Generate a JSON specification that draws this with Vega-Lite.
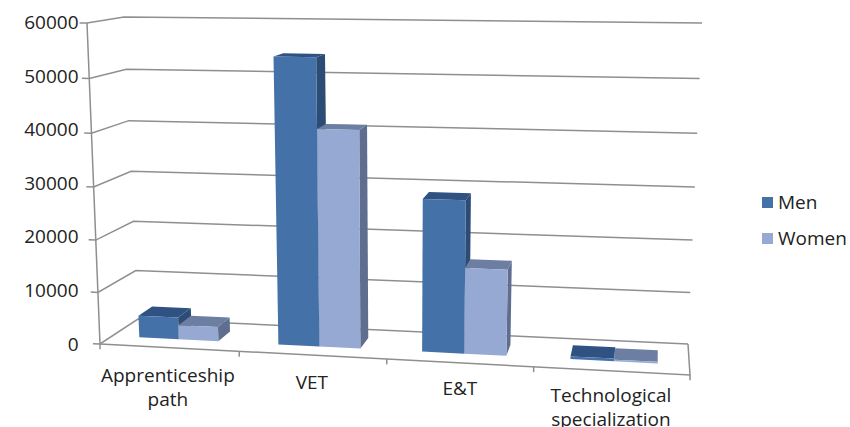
{
  "$schema": "https://vega.github.io/schema/vega-lite/v6.json",
  "width": 850,
  "height": 427,
  "padding": 0,
  "autosize": {"type": "none"},
  "background": "white",
  "view": {"stroke": null},
  "config": {"font": "Open Sans"},
  "data": {"values": [
    {"category": "Apprenticeship path", "series": "Men", "value": 4300},
    {"category": "Apprenticeship path", "series": "Women", "value": 2800},
    {"category": "VET", "series": "Men", "value": 54000},
    {"category": "VET", "series": "Women", "value": 41000},
    {"category": "E&T", "series": "Men", "value": 28700},
    {"category": "E&T", "series": "Women", "value": 16200},
    {"category": "Technological specialization", "series": "Men", "value": 500},
    {"category": "Technological specialization", "series": "Women", "value": 300}
  ]},
  "transform": [
    {"calculate": "indexof(['Apprenticeship path','VET','E&T','Technological specialization'], datum.category)", "as": "slot"},
    {"calculate": "[0.0685,0.071,0.073,0.0755][datum.slot]", "as": "w"},
    {"calculate": "[0.047,0.288,0.537,0.794][datum.slot] + (datum.series === 'Women' ? datum.w : 0)", "as": "u0"},
    {"calculate": "datum.category + '/' + datum.series", "as": "bar"},
    {"calculate": "[{f:'front',i:0,a:0,b:0,t:0},{f:'front',i:1,a:1,b:0,t:0},{f:'front',i:2,a:1,b:0,t:1},{f:'front',i:3,a:0,b:0,t:1},{f:'top',i:0,a:0,b:0,t:1},{f:'top',i:1,a:1,b:0,t:1},{f:'top',i:2,a:1,b:1,t:1},{f:'top',i:3,a:0,b:1,t:1},{f:'side',i:0,a:1,b:0,t:0},{f:'side',i:1,a:1,b:1,t:0},{f:'side',i:2,a:1,b:1,t:1},{f:'side',i:3,a:1,b:0,t:1}]", "as": "c"},
    {"flatten": ["c"]},
    {"calculate": "datum.c.f", "as": "face"},
    {"calculate": "datum.c.i", "as": "seq"},
    {"calculate": "datum.u0 + datum.c.a * datum.w", "as": "u"},
    {"calculate": "0.32 + 0.38 * datum.c.b", "as": "d"},
    {"calculate": "datum.c.t * datum.value / 60000", "as": "r"},
    {"calculate": "0.957 * datum.r / (1 - 0.043 * datum.r)", "as": "v"},
    {"calculate": "(1-datum.v)*((1-datum.d)*((1-datum.u)*100+datum.u*690)+datum.d*((1-datum.u)*138+datum.u*688))+datum.v*((1-datum.d)*((1-datum.u)*87+datum.u*704)+datum.d*((1-datum.u)*124+datum.u*702))", "as": "X"},
    {"calculate": "(1-datum.v)*((1-datum.d)*(datum.u*-5794)+datum.d*((1-datum.u)*4673))+datum.v*((1-datum.d)*((1-datum.u)*60000+datum.u*58505)+datum.d*((1-datum.u)*61121+datum.u*60000))", "as": "Y"}
  ],
  "layer": [
    {
      "data": {"values": [{"value": 0}, {"value": 10000}, {"value": 20000}, {"value": 30000}, {"value": 40000}, {"value": 50000}, {"value": 60000}]},
      "transform": [
        {"calculate": "[{i:0,u:-0.012,d:0},{i:1,u:0,d:0},{i:2,u:0,d:1},{i:3,u:1,d:1}]", "as": "c"},
        {"flatten": ["c"]},
        {"calculate": "datum.c.i", "as": "seq"},
        {"calculate": "datum.c.u", "as": "u"},
        {"calculate": "datum.c.d", "as": "d"},
        {"calculate": "datum.value / 60000", "as": "r"},
        {"calculate": "0.957 * datum.r / (1 - 0.043 * datum.r)", "as": "v"},
        {"calculate": "(1-datum.v)*((1-datum.d)*((1-datum.u)*100+datum.u*690)+datum.d*((1-datum.u)*138+datum.u*688))+datum.v*((1-datum.d)*((1-datum.u)*87+datum.u*704)+datum.d*((1-datum.u)*124+datum.u*702))", "as": "X"},
        {"calculate": "(1-datum.v)*((1-datum.d)*(datum.u*-5794)+datum.d*((1-datum.u)*4673))+datum.v*((1-datum.d)*((1-datum.u)*60000+datum.u*58505)+datum.d*((1-datum.u)*61121+datum.u*60000))", "as": "Y"}
      ],
      "mark": {"type": "line", "stroke": "#8f8f8f", "strokeWidth": 1.5, "clip": false},
      "encoding": {
        "x": {"field": "X", "type": "quantitative", "axis": null, "scale": {"domain": [0, 850], "nice": false, "zero": false}},
        "y": {
          "field": "Y",
          "type": "quantitative",
          "scale": {"domain": [-15514, 64299], "nice": false, "zero": false},
          "axis": {
            "title": null,
            "values": [0, 10000, 20000, 30000, 40000, 50000, 60000],
            "format": "d",
            "orient": "left",
            "offset": -78,
            "domain": false,
            "ticks": false,
            "grid": false,
            "labelPadding": 0,
            "labelFont": "Open Sans",
            "labelFontSize": 19,
            "labelColor": "#222222",
            "labelBound": false,
            "labelOverlap": false,
            "encoding": {"labels": {"update": {
              "dx": {"signal": "-13 * datum.value / 60000"},
              "dy": {"signal": "321 * (datum.value / 60000 - 0.957 * (datum.value / 60000) / (1 - 0.043 * datum.value / 60000))"}
            }}}
          }
        },
        "detail": {"field": "value", "type": "nominal"},
        "order": {"field": "seq", "type": "quantitative"}
      }
    },
    {
      "data": {"values": [{"edge": "floor"}, {"edge": "wall"}]},
      "transform": [
        {"calculate": "datum.edge === 'floor' ? [{i:0,u:0,d:0,v:0},{i:1,u:1,d:0,v:0},{i:2,u:1,d:1,v:0}] : [{i:0,u:0,d:0,v:0},{i:1,u:0,d:0,v:1}]", "as": "c"},
        {"flatten": ["c"]},
        {"calculate": "datum.c.i", "as": "seq"},
        {"calculate": "datum.c.u", "as": "u"},
        {"calculate": "datum.c.d", "as": "d"},
        {"calculate": "datum.c.v", "as": "v"},
        {"calculate": "(1-datum.v)*((1-datum.d)*((1-datum.u)*100+datum.u*690)+datum.d*((1-datum.u)*138+datum.u*688))+datum.v*((1-datum.d)*((1-datum.u)*87+datum.u*704)+datum.d*((1-datum.u)*124+datum.u*702))", "as": "X"},
        {"calculate": "(1-datum.v)*((1-datum.d)*(datum.u*-5794)+datum.d*((1-datum.u)*4673))+datum.v*((1-datum.d)*((1-datum.u)*60000+datum.u*58505)+datum.d*((1-datum.u)*61121+datum.u*60000))", "as": "Y"}
      ],
      "mark": {"type": "line", "stroke": "#8f8f8f", "strokeWidth": 1.5},
      "encoding": {
        "x": {"field": "X", "type": "quantitative"},
        "y": {"field": "Y", "type": "quantitative"},
        "detail": {"field": "edge", "type": "nominal"},
        "order": {"field": "seq", "type": "quantitative"}
      }
    },
    {
      "data": {"values": [{"u": 0}, {"u": 0.236}, {"u": 0.486}, {"u": 0.735}, {"u": 1}]},
      "transform": [
        {"calculate": "100 + 590 * datum.u", "as": "X"},
        {"calculate": "-5794 * datum.u", "as": "Y"},
        {"calculate": "datum.Y - 1000", "as": "Y2"}
      ],
      "mark": {"type": "rule", "stroke": "#8f8f8f", "strokeWidth": 1.5},
      "encoding": {
        "x": {"field": "X", "type": "quantitative"},
        "y": {"field": "Y", "type": "quantitative"},
        "y2": {"field": "Y2"}
      }
    },
    {
      "transform": [{"filter": "datum.face === 'side'"}],
      "mark": {"type": "line", "strokeWidth": 0},
      "encoding": {
        "x": {"field": "X", "type": "quantitative"},
        "y": {"field": "Y", "type": "quantitative"},
        "fill": {"condition": {"test": "datum.series === 'Men'", "value": "#2c4b75"}, "value": "#5f6e8f"},
        "detail": {"field": "bar", "type": "nominal"},
        "order": {"field": "seq", "type": "quantitative"}
      }
    },
    {
      "transform": [{"filter": "datum.face === 'top'"}],
      "mark": {"type": "line", "strokeWidth": 0},
      "encoding": {
        "x": {"field": "X", "type": "quantitative"},
        "y": {"field": "Y", "type": "quantitative"},
        "fill": {"condition": {"test": "datum.series === 'Men'", "value": "#2f5282"}, "value": "#6c7fa3"},
        "detail": {"field": "bar", "type": "nominal"},
        "order": {"field": "seq", "type": "quantitative"}
      }
    },
    {
      "transform": [{"filter": "datum.face === 'front'"}],
      "mark": {"type": "line", "strokeWidth": 0},
      "encoding": {
        "x": {"field": "X", "type": "quantitative"},
        "y": {"field": "Y", "type": "quantitative"},
        "fill": {
          "field": "series",
          "type": "nominal",
          "scale": {"domain": ["Men", "Women"], "range": ["#4472a8", "#95a9d2"]},
          "legend": {
            "title": null,
            "orient": "none",
            "legendX": 758,
            "legendY": 193,
            "symbolType": "square",
            "symbolSize": 121,
            "symbolStrokeWidth": 0,
            "labelFont": "Open Sans",
            "labelFontSize": 19,
            "labelColor": "#222222",
            "labelOffset": 1,
            "rowPadding": 16
          }
        },
        "detail": {"field": "bar", "type": "nominal"},
        "order": {"field": "seq", "type": "quantitative"}
      }
    },
    {
      "data": {"values": [
        {"category": "Apprenticeship path", "u": 0.115},
        {"category": "VET", "u": 0.359},
        {"category": "E&T", "u": 0.61},
        {"category": "Technological specialization", "u": 0.866}
      ]},
      "transform": [
        {"calculate": "100 + 590 * datum.u", "as": "X"},
        {"calculate": "(344 - (367 + 27 * (datum.u - 0.115))) * 186.9", "as": "Y"}
      ],
      "mark": {"type": "text", "baseline": "top", "align": "center", "lineBreak": " ", "lineHeight": 24, "font": "Open Sans", "fontSize": 19, "fill": "#222222"},
      "encoding": {
        "x": {"field": "X", "type": "quantitative"},
        "y": {"field": "Y", "type": "quantitative"},
        "text": {"field": "category", "type": "nominal"}
      }
    }
  ]
}
